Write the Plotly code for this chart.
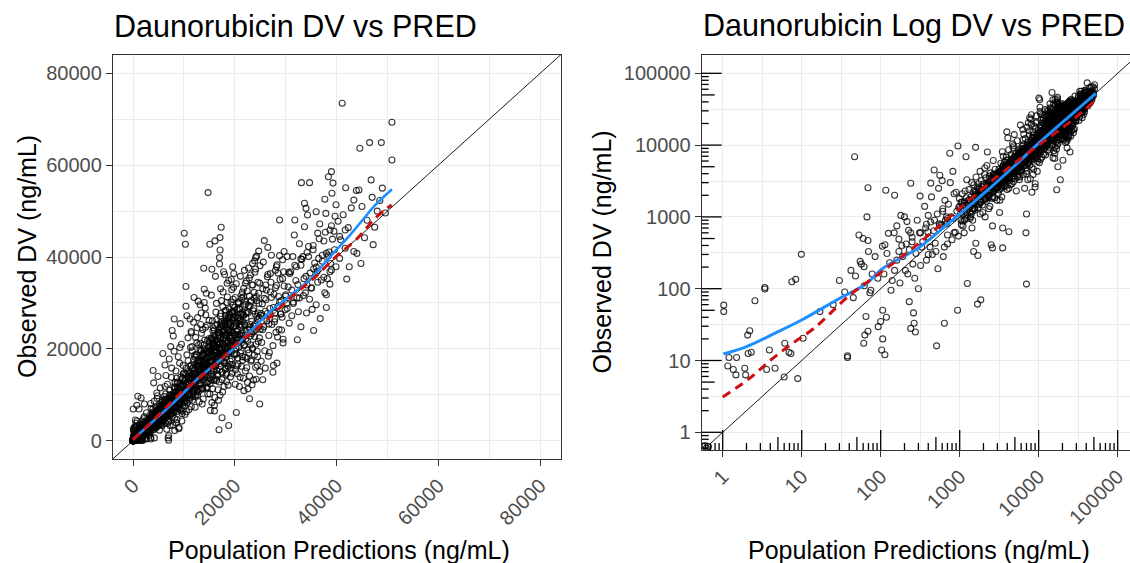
import plotly.graph_objects as go

# ---------------- data ----------------
pred_a = [0.62, 0.66, 0.6, 1.03, 1.03, 1.16, 1.36, 1.47, 1.5, 1.2,
          1.9, 1.95, 2.07, 2.2, 2.1, 2.3, 2.56, 3.42, 3.42, 3.6,
          3.9, 4.6, 6.0, 6.1, 6.9, 7.3, 8.9, 10.4, 7.5, 17,
          38, 38, 65, 69, 63, 61, 75, 73, 93, 100,
          106, 106, 103, 113, 118, 230, 260, 240, 265, 275,
          300, 510, 640, 940, 1680, 1850, 7000, 1250, 9.9, 8.4,
          46.8, 69, 67, 53, 60, 69, 105, 113, 116, 150,
          240, 315, 475, 430, 600, 750, 950, 1200, 1590, 180,
          200, 215, 160, 148, 170, 125, 61.6, 57, 240, 400,
          380, 480, 610, 680, 1100, 1500, 2100, 2600, 3500, 4200,
          3200, 8200, 9000, 1500, 1700, 2600, 3500, 1600, 2500, 500,
          420, 640]
dv_a = [0.6, 0.63, 0.65, 59, 48, 8.4, 7.5, 6.3, 11, 11,
        7.8, 6.3, 22.6, 26, 12.5, 13, 68, 104, 99, 7.5,
        14, 7.8, 5.9, 17.4, 13, 12.5, 5.6, 20.4, 125, 48,
        11.6, 11, 41, 25.5, 22.6, 17.4, 95, 88, 29.6, 35,
        50, 20, 14, 12, 40, 66, 46, 28, 33, 25,
        100, 16, 33, 50, 61, 70, 116, 118, 301, 135,
        6900, 2550, 1000, 560, 500, 470, 390, 410, 2350, 2000,
        2940, 1950, 4500, 2950, 3200, 7700, 9700, 6900, 9300, 1050,
        1000, 860, 750, 600, 490, 590, 202, 220, 600, 1050,
        790, 900, 1200, 800, 750, 1800, 1000, 750, 700, 620,
        1150, 2200, 2600, 330, 290, 370, 370, 430, 410, 330,
        380, 380]

pred_a2 = [110, 130, 150, 170, 190, 210, 230, 250, 280, 310,
           340, 370, 400, 430, 470, 520, 560, 610, 660, 720,
           780, 850, 920, 990, 120, 140, 160, 185, 205, 225,
           255, 290, 330, 360, 395, 440, 490, 540, 590, 650,
           700, 760, 830, 900, 970, 135, 175, 220, 270, 320,
           380, 450, 530, 620, 700, 800, 880, 960, 560, 820]
dv_a2 = [160, 230, 180, 330, 280, 420, 350, 520, 310, 600,
         450, 700, 520, 850, 640, 1100, 760, 1300, 900, 1500,
         1000, 2100, 1200, 1800, 310, 130, 250, 400, 180, 650,
         220, 900, 380, 1400, 620, 1900, 430, 2500, 780, 1700,
         560, 3000, 950, 2200, 1350, 95, 120, 160, 140, 210,
         250, 300, 190, 280, 420, 480, 610, 540, 3800, 4300]

pred_a3 = [30, 35, 42, 48, 55, 62, 70, 78, 85, 92, 25, 45]
dv_a3 = [130, 90, 180, 150, 240, 110, 330, 160, 280, 140, 60, 75]

pred_b = [1020, 1050, 1080, 1120, 1150, 1190, 1230, 1270, 1310, 1350,
          1390, 1430, 1470, 1510, 1560, 1610, 1660, 1710, 1760, 1810,
          1860, 1910, 1960, 2010, 2060, 2110, 2160, 2210, 2260, 2310,
          2360, 2410, 2460, 2510, 2560, 2610, 2660, 2710, 2760, 2810,
          2860, 2910, 2960, 1040, 1100, 1170, 1250, 1330, 1420, 1500,
          1590, 1680, 1780, 1880, 1980, 2080, 2180, 2280, 2380, 2480,
          2580, 2680, 2780, 2880, 2980, 1070, 1210, 1370, 1540, 1730,
          1930, 2130, 2330, 2530, 2730, 2930, 1140, 1460, 1820, 2240]
dv_b = [1300, 780, 2100, 1100, 1650, 950, 3300, 1450, 2400, 1150,
        1900, 700, 1550, 2800, 1250, 3600, 1850, 1350, 2500, 4300,
        1600, 2100, 1150, 2900, 3900, 1750, 2450, 5200, 1950, 3100,
        2250, 1400, 4100, 2700, 3500, 1900, 6100, 2300, 3000, 4600,
        2500, 3400, 1700, 900, 1450, 2300, 1050, 1750, 3000, 1300,
        2000, 2600, 1500, 3200, 2200, 4800, 1650, 2750, 3700, 2150,
        2900, 4000, 1850, 3300, 2600, 1600, 1850, 1000, 2050, 2900,
        2400, 3500, 1300, 2700, 3800, 3100, 600, 900, 1100, 8000]

pred_c = [3020, 3080, 3140, 3200, 3260, 3320, 3380, 3440, 3500, 3560,
          3620, 3680, 3740, 3800, 3860, 3920, 3980, 4040, 4100, 4160,
          4220, 4280, 4340, 4400, 4460, 4520, 4580, 4640, 4700, 4760,
          4820, 4880, 4940, 5000, 5060, 5120, 5180, 5240, 5300, 5360,
          5420, 5480, 5540, 5600, 5660, 5720, 5780, 5840, 5900, 5960,
          3050, 3170, 3290, 3410, 3530, 3650, 3770, 3890, 4010, 4130,
          4250, 4370, 4490, 4610, 4730, 4850, 4970, 5090, 5210, 5330,
          5450, 5570, 5690, 5810, 5930, 3110, 3350, 3590, 3830, 4070,
          4310, 4550, 4790, 5030, 5270, 5510, 5750, 5990, 3230, 3710,
          4190, 4670, 5150, 5630, 3470, 3950, 4430, 4910, 5390, 5870]
dv_c = [3400, 2100, 4600, 2900, 3800, 5600, 2500, 4100, 3300, 7000,
        3900, 2700, 4800, 3600, 6200, 4300, 2400, 5200, 3900, 8600,
        4500, 3200, 5900, 4100, 7400, 4900, 2900, 6400, 4600, 5500,
        9800, 4100, 6000, 5100, 3400, 7600, 5600, 4400, 6700, 11500,
        5200, 3800, 6300, 7900, 5000, 4200, 8800, 6100, 5400, 7100,
        2600, 3600, 4300, 1900, 5100, 3000, 4400, 6800, 3500, 4900,
        5600, 2800, 4000, 5400, 9200, 3700, 6600, 4600, 2300, 5800,
        6900, 4800, 3300, 7400, 5600, 4000, 2600, 5300, 4700, 12600,
        3800, 7100, 3100, 6200, 5000, 8300, 3600, 6600, 1700, 5800,
        2500, 10400, 4300, 6000, 8100, 15300, 5300, 14000, 3600, 19000]

pred_d = [6040, 6120, 6200, 6280, 6360, 6440, 6520, 6600, 6680, 6760,
          6840, 6920, 7000, 7080, 7160, 7240, 7320, 7400, 7480, 7560,
          7640, 7720, 7800, 7880, 7960, 8040, 8120, 8200, 8280, 8360,
          8440, 8520, 8600, 8680, 8760, 8840, 8920, 9000, 9080, 9160,
          9240, 9320, 9400, 9480, 9560, 9640, 9720, 9800, 9880, 9960,
          6080, 6240, 6400, 6560, 6720, 6880, 7040, 7200, 7360, 7520,
          7680, 7840, 8000, 8160, 8320, 8480, 8640, 8800, 8960, 9120,
          9280, 9440, 9600, 9760, 9920, 6160, 6480, 6800, 7120, 7440,
          7760, 8080, 8400, 8720, 9040, 9360, 9680, 9990, 6320, 6960,
          7600, 8240, 8880, 9520, 6640, 7280, 7920, 8560, 9200, 9840,
          7010, 6900, 7700, 8500, 9300, 9600, 8100, 6300, 7400, 9900]
dv_d = [6800, 4500, 8900, 5800, 7400, 10200, 5200, 7900, 6300, 12300,
        7100, 4800, 4000, 8400, 6600, 11000, 5600, 9200, 7300, 13800,
        8000, 5300, 9900, 7600, 6100, 11700, 8600, 4900, 10600, 9000,
        15200, 7200, 9800, 12800, 6400, 10300, 8300, 11400, 7800, 16900,
        9500, 6700, 12100, 8800, 10700, 5900, 13300, 9300, 11800, 8400,
        5500, 7800, 3900, 9100, 6600, 8300, 4300, 10000, 7100, 6000,
        9600, 3400, 8600, 11300, 7500, 9900, 4600, 12600, 8100, 10900,
        6900, 13900, 9400, 7700, 12300, 9600, 14200, 6200, 17800, 5800,
        8900, 19500, 7000, 11700, 2900, 10400, 6400, 14800, 11800, 9300,
        15800, 12700, 18300, 21000, 2500, 3300, 22800, 13600, 20300, 16400,
        1100, 600, 24000, 3900, 25500, 4300, 26500, 16500, 20500, 14500]

pred_e = [10050, 10150, 10250, 10350, 10450, 10550, 10650, 10750, 10850, 10950,
          11050, 11150, 11250, 11350, 11450, 11550, 11650, 11750, 11850, 11950,
          12050, 12150, 12250, 12350, 12450, 12550, 12650, 12750, 12850, 12950,
          13050, 13150, 13250, 13350, 13450, 13550, 13650, 13750, 13850, 13950,
          14050, 14150, 14250, 14350, 14450, 14550, 14650, 14750, 14850, 14950,
          10100, 10300, 10500, 10700, 10900, 11100, 11300, 11500, 11700, 11900,
          12100, 12300, 12500, 12700, 12900, 13100, 13300, 13500, 13700, 13900,
          14100, 14300, 14500, 14700, 14900, 10200, 10600, 11000, 11400, 11800,
          12200, 12600, 13000, 13400, 13800, 14200, 14600, 10400, 11200, 12000,
          12800, 13600, 14400, 10800, 11600, 12400, 13200, 14000, 14800, 10070,
          10300, 14750, 13900, 10400, 11900, 12600, 13300, 14100, 10900, 11500,
          12100, 12700, 13400, 14000, 14600, 10600, 11300, 12900, 13700, 14400]
dv_e = [10800, 7600, 13200, 9400, 15800, 11300, 8200, 12600, 17400, 10100,
        13700, 9000, 16200, 11800, 7400, 14400, 19600, 12200, 10400, 15300,
        12900, 18200, 9700, 14800, 11600, 21300, 13500, 16900, 10600, 15600,
        13100, 19800, 12300, 17100, 23400, 14100, 11200, 18600, 15500, 20900,
        13800, 16600, 24700, 12600, 18100, 15200, 21800, 14400, 19300, 26200,
        8400, 12400, 6300, 15000, 11000, 9300, 20300, 13600, 8800, 17700,
        10900, 22500, 14700, 9900, 16300, 12100, 25300, 17500, 11400, 19100,
        14900, 27400, 16100, 10200, 22200, 5700, 18700, 6800, 23800, 9600,
        7300, 24600, 8500, 27800, 9100, 28900, 11700, 29300, 26500, 31200,
        30400, 8000, 32100, 22400, 20500, 18800, 29600, 33000, 12900, 45190,
        42800, 54030, 37560, 33600, 25800, 10800, 21200, 17400, 14300, 23500,
        16600, 26800, 19700, 30100, 25200, 27200, 11500, 20900, 24200, 16900]

pred_f = [15050, 15150, 15250, 15350, 15450, 15550, 15650, 15750, 15850, 15950,
          16050, 16150, 16250, 16350, 16450, 16550, 16650, 16750, 16850, 16950,
          17050, 17150, 17250, 17350, 17450, 17550, 17650, 17750, 17850, 17950,
          18050, 18150, 18250, 18350, 18450, 18550, 18650, 18750, 18850, 18950,
          19050, 19150, 19250, 19350, 19450, 19550, 19650, 19750, 19850, 19950,
          15100, 15300, 15500, 15700, 15900, 16100, 16300, 16500, 16700, 16900,
          17100, 17300, 17500, 17700, 17900, 18100, 18300, 18500, 18700, 18900,
          19100, 19300, 19500, 19700, 19900, 15200, 15600, 16000, 16400, 16800,
          17200, 17600, 18000, 18400, 18800, 19200, 19600, 15400, 16200, 17000,
          17800, 18600, 19400, 15800, 16600, 17400, 18200, 19000, 19800, 17330,
          17100, 15100, 16100, 17120, 17000, 15500, 16900, 18800, 17500, 16000,
          15450, 16250, 17050, 17850, 18650, 19450, 15650, 16450, 17250, 18050,
          18850, 19650, 15950, 16750, 17550, 18350, 19150, 19950, 16550, 18450]
dv_f = [16200, 12400, 19800, 14600, 22300, 17100, 11300, 20600, 15700, 24100,
        18400, 13500, 21800, 16900, 26400, 19300, 14200, 23600, 18100, 12800,
        21200, 27100, 16300, 24800, 19900, 14900, 29200, 22500, 17400, 25700,
        20300, 15600, 28400, 23100, 18800, 31300, 21600, 16100, 26900, 19500,
        24400, 13900, 30200, 22000, 17800, 27600, 20800, 33400, 25100, 18600,
        10200, 18900, 8300, 23900, 13100, 9400, 28000, 15300, 11100, 20100,
        9900, 25900, 13300, 32400, 11800, 23000, 14400, 34300, 12100, 28700,
        16600, 35100, 14700, 30800, 21400, 6600, 26100, 7700, 29900, 8800,
        33100, 10600, 36200, 12900, 34900, 15800, 37900, 31700, 35800, 38500,
        36800, 26200, 32900, 24600, 20900, 30500, 27300, 22700, 36400, 46500,
        44240, 42800, 43520, 41550, 39880, 37340, 2390, 3300, 5000, 6500,
        21000, 17700, 23400, 19000, 25400, 21700, 14000, 19600, 27700, 16800,
        24000, 29500, 20400, 22900, 18300, 26600, 23700, 28100, 25300, 30100]

pred_g = [20050, 20150, 20250, 20350, 20450, 20550, 20650, 20750, 20850, 20950,
          21050, 21150, 21250, 21350, 21450, 21550, 21650, 21750, 21850, 21950,
          22050, 22150, 22250, 22350, 22450, 22550, 22650, 22750, 22850, 22950,
          23050, 23150, 23250, 23350, 23450, 23550, 23650, 23750, 23850, 23950,
          24050, 24150, 24250, 24350, 24450, 24550, 24650, 24750, 24850, 24950,
          20100, 20500, 20900, 21300, 21700, 22100, 22500, 22900, 23300, 23700,
          24100, 24500, 24900, 20300, 21100, 21900, 22700, 23500, 24300, 20700,
          21500, 22300, 23100, 23900, 24700, 20300, 22900, 24900, 24100, 21800,
          22600, 23400, 24200, 20600, 21400, 22200, 23000, 23800, 24600, 21000]
dv_g = [21300, 15400, 25800, 18900, 28600, 23200, 16700, 30100, 20400, 26300,
        13800, 24700, 19600, 31800, 22100, 17500, 27400, 33200, 20900, 25100,
        18200, 29700, 23800, 15900, 32600, 21600, 27900, 19100, 35400, 24300,
        22800, 17300, 30600, 26000, 20200, 33900, 23700, 28800, 18600, 36700,
        25500, 21000, 31400, 27100, 16400, 34500, 24900, 29900, 22400, 38100,
        12300, 14600, 11800, 16200, 13600, 15200, 12700, 14100, 17600, 13200,
        16000, 18300, 15100, 34200, 35800, 37100, 37600, 38600, 40200, 30200,
        32400, 34800, 36100, 39200, 41300, 6160, 9140, 8000, 39880, 10900,
        11300, 12200, 13400, 24000, 27600, 26800, 29300, 31000, 27800, 23000]

pred_h = [25100, 25300, 25500, 25700, 25900, 26100, 26300, 26500, 26700, 26900,
          27100, 27300, 27500, 27700, 27900, 28100, 28300, 28500, 28700, 28900,
          29100, 29300, 29500, 29700, 29900, 25200, 25600, 26000, 26400, 26800,
          27200, 27600, 28000, 28400, 28800, 29200, 29600, 25400, 26200, 27000,
          27800, 28600, 29400, 25800, 28800, 27200, 28200, 29700, 28300, 26600,
          25000, 26000, 27000, 28000, 29000, 30000, 25500, 27500, 29500, 26500]
dv_h = [27300, 21400, 33100, 24800, 19600, 30700, 26100, 36200, 22900, 28800,
        34500, 25300, 20700, 31900, 27800, 23600, 38300, 29300, 24200, 35100,
        30500, 26900, 22100, 33700, 28500, 17300, 38900, 15800, 35700, 19200,
        31200, 16400, 37100, 22600, 40300, 24100, 36800, 29800, 32800, 27500,
        25900, 31400, 39400, 43580, 48080, 40400, 37900, 41200, 16900, 18400,
        24300, 28200, 36400, 33300, 27600, 31800, 13270, 14900, 21300, 42100]

pred_i = [31800, 33100, 34700, 33700, 34000, 34300, 36000, 37900, 39000, 38400,
          39300, 39100, 39900, 38700, 36300, 35400, 34500, 33400, 30300, 31400,
          32100, 30800, 38000, 38800, 32300, 34100, 37700, 35500, 38000, 30500,
          31000, 31500, 32000, 32500, 33000, 33500, 34000, 34500, 35000, 35500,
          36000, 36500, 37000, 37500, 38000, 38500, 39000, 39500, 30200, 31200,
          32200, 33200, 34200, 35200, 36200, 37200, 38200, 39200, 30700, 32700,
          34700, 36700, 38700, 31700, 33700, 35700, 37700, 39700, 33000, 36800]
dv_i = [48080, 56200, 56200, 51700, 50600, 49150, 49880, 49500, 58600, 57500,
        56100, 53900, 51400, 45900, 45200, 41600, 40100, 40100, 40100, 40100,
        37900, 36400, 40800, 38600, 22000, 27800, 32200, 24000, 29000, 33500,
        36800, 30200, 34900, 28100, 38200, 31600, 35800, 42300, 33200, 37400,
        29600, 39700, 35000, 43500, 31800, 41100, 37200, 45600, 29900, 27200,
        31100, 39500, 33900, 28600, 36900, 40400, 35300, 43900, 25600, 42900,
        30800, 47200, 34100, 44800, 46600, 38700, 52600, 48900, 24800, 26600]

pred_j = [41110, 50890, 50890, 44570, 46500, 48800, 41800, 43400, 44400, 43900,
          42900, 41700, 41700, 43400, 44000, 42500, 40600, 40800, 40600, 47000,
          48000, 49000, 46000, 45000, 47500, 40300, 41300, 42300, 45500, 46800,
          48500, 49600, 42000, 44800, 47200]
dv_j = [73480, 69350, 61150, 63690, 64920, 64920, 55100, 52400, 54600, 54500,
        50700, 45900, 41900, 41200, 40800, 37900, 44500, 43750, 39700, 53000,
        50000, 55000, 48000, 51000, 46500, 47800, 49200, 46400, 44200, 56800,
        52300, 49600, 35200, 38600, 42700]

# dense core along the identity line
pred_k1 = [1030, 1090, 1160, 1220, 1290, 1350, 1420, 1480, 1550, 1610,
           1680, 1740, 1810, 1870, 1940, 2000, 2070, 2130, 2200, 2260,
           2330, 2390, 2460, 2520, 2590, 2650, 2720, 2780, 2850, 2910,
           2980, 3040, 3110, 3170, 3240, 3300, 3370, 3430, 3500, 3560,
           3630, 3690, 3760, 3820, 3890, 3950, 4020, 4080, 4150, 4210,
           4280, 4340, 4410, 4470, 4540, 4600, 4670, 4730, 4800, 4860,
           4930, 4990, 1300, 1700, 2100, 2500, 2900, 3300, 3700, 4100,
           4500, 4900, 1450, 1850, 2250, 2650, 3050, 3450, 3850, 4250,
           4650, 1200, 1600, 2000, 2400, 2800, 3200, 3600, 4000, 4400]
dv_k1 = [1130, 870, 1570, 1160, 1550, 950, 1490, 2220, 1320, 2010,
         1680, 2260, 1630, 2150, 1460, 2800, 2070, 1810, 2640, 2370,
         1860, 3110, 2340, 2900, 1810, 3840, 2860, 2500, 3420, 2910,
         2530, 4100, 3420, 2380, 4050, 3140, 3880, 2740, 4900, 3560,
         3270, 4430, 3950, 2670, 5060, 3360, 4420, 6120, 3940, 5050,
         3420, 4560, 5950, 4020, 5220, 3450, 5840, 4730, 4080, 6800,
         5420, 4490, 1300, 2040, 1890, 2750, 3770, 3470, 3330, 4720,
         4500, 5880, 1310, 1940, 2810, 2520, 3050, 4140, 4240, 4040,
         4880, 1440, 1520, 2200, 2400, 3080, 3840, 4140, 4000, 5720]

pred_k2 = [5050, 5120, 5190, 5260, 5330, 5400, 5470, 5540, 5610, 5680,
           5750, 5820, 5890, 5960, 6030, 6100, 6170, 6240, 6310, 6380,
           6450, 6520, 6590, 6660, 6730, 6800, 6870, 6940, 7010, 7080,
           7150, 7220, 7290, 7360, 7430, 7500, 7570, 7640, 7710, 7780,
           7850, 7920, 7990, 8060, 8130, 8200, 8270, 8340, 8410, 8480,
           8550, 8620, 8690, 8760, 8830, 8900, 8970, 9040, 9110, 9180,
           9250, 9320, 9390, 9460, 9530, 9600, 9670, 9740, 9810, 9880]
dv_k2 = [5300, 4350, 6490, 5000, 6130, 4320, 7110, 5540, 5050, 6820,
         6330, 4370, 7950, 5660, 7240, 5190, 6480, 8740, 5680, 7340,
         6450, 8150, 5270, 7330, 6390, 8840, 5840, 7980, 7360, 6370,
         8580, 7220, 5470, 9940, 8170, 6750, 9460, 7640, 6550, 8950,
         8240, 10300, 7590, 9670, 6500, 9020, 11580, 7510, 8410, 10600,
         7270, 9910, 9120, 8320, 11480, 9790, 7180, 10850, 9110, 12390,
         8330, 10720, 9860, 11830, 8100, 10560, 9670, 13640, 9320, 11860]

pred_k3 = [10000, 10100, 10200, 10300, 10400, 10500, 10600, 10700, 10800, 10900,
           11000, 11100, 11200, 11300, 11400, 11500, 11600, 11700, 11800, 11900,
           12000, 12100, 12200, 12300, 12400, 12500, 12600, 12700, 12800, 12900,
           13000, 13100, 13200, 13300, 13400, 13500, 13600, 13700, 13800, 13900,
           14000, 14100, 14200, 14300, 14400, 14500, 14600, 14700, 14800, 14900,
           15000, 15100, 15200, 15300, 15400, 15500, 15600, 15700, 15800, 15900,
           16000, 16100, 16200, 16300, 16400, 16500, 16600, 16700, 16800, 16900,
           17000, 17100, 17200, 17300, 17400, 17500, 17600, 17700, 17800, 17900,
           18000, 18100, 18200, 18300, 18400, 18500, 18600, 18700, 18800, 18900,
           19000, 19100, 19200, 19300, 19400, 19500, 19600, 19700, 19800, 19900,
           20000, 20100, 20200, 20300, 20400, 20500, 20600, 20700, 20800, 20900,
           21000, 21100, 21200, 21300, 21400, 21500, 21600, 21700, 21800, 21900,
           22000, 22100, 22200, 22300, 22400, 22500, 22600, 22700, 22800, 22900,
           23000, 23100, 23200, 23300, 23400, 23500, 23600, 23700, 23800, 23900,
           24000, 24100, 24200, 24300, 24400, 24500, 24600, 24700, 24800, 24900]
dv_k3 = [11000, 9100, 13100, 10300, 14600, 8700, 12200, 10800, 13900, 9800,
         12700, 10100, 14700, 11300, 16500, 9800, 13700, 12100, 15900, 11300,
         13800, 18600, 12100, 15200, 10000, 13800, 11100, 16500, 13600, 17400,
         11400, 13800, 17300, 14400, 19400, 11500, 16300, 14400, 18600, 13200,
         16100, 21900, 14200, 17900, 11500, 15600, 12600, 18900, 15800, 20300,
         16500, 13700, 19800, 15300, 22400, 13200, 18700, 16500, 21300, 15100,
         18400, 25100, 16200, 20400, 13100, 17700, 14500, 21500, 18100, 23000,
         18700, 15500, 22400, 17300, 25200, 14900, 21100, 18600, 24000, 17000,
         20700, 28200, 18200, 23000, 14700, 19900, 16300, 24200, 20300, 25900,
         20900, 17300, 25000, 19300, 28100, 16600, 23500, 20700, 26800, 18900,
         23000, 31200, 20200, 25500, 16300, 22000, 18000, 26800, 22500, 28700,
         23100, 19100, 27600, 21300, 31000, 18300, 25900, 22900, 29500, 20800,
         25300, 34300, 22200, 28000, 17900, 24200, 19800, 29400, 24700, 31500,
         25300, 20900, 30200, 23300, 33900, 20000, 28300, 25000, 32300, 22700,
         27600, 37400, 24200, 30500, 19500, 26400, 21600, 32100, 26900, 34300]

pred_k4 = [12050, 12550, 13050, 13550, 14050, 14550, 15050, 15550, 16050, 16550,
           17050, 17550, 18050, 18550, 19050, 19550, 20050, 20550, 21050, 21550,
           12300, 12800, 13300, 13800, 14300, 14800, 15300, 15800, 16300, 16800,
           17300, 17800, 18300, 18800, 19300, 19800, 20300, 20800, 21300, 21800,
           15150, 15650, 16150, 16650, 17150, 17650, 18150, 18650, 19150, 19650]
dv_k4 = [14500, 16300, 15000, 18300, 16200, 19600, 17300, 20200, 19300, 21500,
         19600, 23700, 21700, 24100, 22900, 26400, 23100, 26700, 25300, 28000,
         12900, 15400, 14600, 17200, 15700, 18500, 16800, 19700, 17900, 21000,
         19000, 22200, 20100, 23500, 21200, 24800, 22300, 26000, 23400, 27300,
         20500, 17200, 22600, 18300, 24000, 19400, 25400, 20500, 26800, 21600]

pred_k5 = [25200, 25800, 26400, 27000, 27600, 28200, 28800, 29400, 30000, 30600,
           31200, 31800, 32400, 33000, 33600, 34200, 34800, 35400, 36000, 36600,
           37200, 37800, 38400, 39000, 39600, 25500, 26700, 27900, 29100, 30300,
           31500, 32700, 33900, 35100, 36300, 37500, 38700, 39900, 26100, 28500]
dv_k5 = [27700, 31000, 27700, 32400, 29000, 33800, 30200, 35300, 31500, 36700,
         32800, 38200, 34000, 39600, 35300, 41000, 36500, 42500, 37800, 44000,
         39100, 45400, 40300, 46800, 41600, 24200, 25400, 26500, 27600, 28800,
         29900, 31100, 32200, 33300, 34500, 35600, 36800, 37900, 33900, 36500]

pred_k6 = [250, 400, 550, 700, 850, 1000, 1150, 1300, 1450, 1600,
           1750, 1900, 2050, 2200, 2350, 2500, 2650, 2800, 2950, 3100,
           3250, 3400, 3550, 3700, 3850, 4000, 4150, 4300, 4450, 4600,
           4750, 4900, 5050, 5200, 5350, 5500, 5650, 5800, 5950, 6100,
           320, 680, 1040, 1400, 1760, 2120, 2480, 2840, 3200, 3560,
           3920, 4280, 4640, 5000, 5360, 5720, 6080, 1580, 2680, 3780]
dv_k6 = [450, 300, 800, 950, 600, 1400, 900, 1700, 1200, 2200,
         1500, 2600, 1800, 2900, 2000, 3400, 2300, 3700, 2600, 4100,
         2800, 4500, 3100, 4900, 3300, 5300, 3600, 5800, 3900, 6200,
         4200, 6600, 4500, 7000, 4800, 7500, 5000, 7900, 5300, 8300,
         600, 1000, 1600, 1100, 2400, 1800, 3300, 2400, 4300, 3000,
         5200, 3600, 6100, 4200, 7100, 4800, 8000, 2300, 3600, 5000]

pred_k7 = [11200, 11700, 12200, 12700, 13200, 13700, 14200, 14700, 15200, 15700,
           16200, 16700, 17200, 17700, 18200, 18700, 19200, 19700, 20200, 20700,
           21200, 21700, 22200, 11450, 11950, 12450, 12950, 13450, 13950, 14450,
           14950, 15450, 15950, 16450, 16950, 17450, 17950, 18450, 18950, 19450,
           19950, 20450, 20950, 21450, 21950, 14000, 15000, 16000, 17000, 18000,
           19000, 20000, 13500, 16500, 18500, 21000, 12500, 15500, 17500, 19500]
dv_k7 = [13500, 15800, 14100, 17300, 15600, 19000, 17000, 20400, 18300, 22000,
         19600, 23500, 21000, 25100, 22300, 26700, 23700, 28200, 25000, 29800,
         26400, 31300, 27700, 12600, 14500, 13400, 16100, 14700, 17600, 16000,
         19200, 17300, 20800, 18600, 22400, 19900, 24000, 21200, 25600, 22500,
         27200, 23800, 28800, 25100, 30400, 20000, 21500, 23000, 24500, 26000,
         27500, 29000, 13800, 17000, 19000, 21800, 18500, 22000, 25500, 28000]

# smooth lines, linear panel
blue_lin_x = [100, 2500, 5000, 7500, 10000, 12500, 15000, 17500, 20000, 22500,
              25000, 27500, 30000, 32500, 35000, 37500, 40000, 42500, 45000, 47500, 50890]
blue_lin_y = [400, 2760, 5300, 7800, 10500, 13300, 15600, 17900, 20300, 23200,
              26000, 28700, 30800, 33000, 35300, 38500, 41600, 44600, 47900, 51200, 54780]
red_lin_x = [0, 5400, 8990, 12590, 16900, 20500, 24100, 29110, 32000, 35580,
             39890, 43850, 47800, 50830]
red_lin_y = [200, 6020, 10010, 13270, 17260, 21260, 24150, 29220, 32140, 35400,
             40100, 43800, 48670, 51350]

# smooth lines, log panel
blue_log_x = [1.02, 2, 4.6, 10.4, 30, 65, 105, 300, 700, 2200, 5000, 9400, 26800, 52800]
blue_log_y = [12.3, 15.6, 24, 37.5, 73, 116, 190, 370, 790, 2300, 5200, 10000, 27500, 52500]
red_log_x = [1.0, 2.19, 4.08, 7.66, 14.3, 40.8, 84.7, 269, 847, 2965, 9400, 26800, 52800]
red_log_y = [3.1, 5.65, 10.2, 17.4, 28.1, 81.7, 147, 385, 1122, 3630, 9500, 22400, 42500]

identity_lin = [-10000, 100000]
identity_log = [0.1, 1000000]

lin_ticks = [0, 20000, 40000, 60000, 80000]
lin_minor = [-10000, 10000, 30000, 50000, 70000]
log_ticks = [1, 10, 100, 1000, 10000, 100000]
log_tick_text = ["1", "10", "100", "1000", "10000", "100000"]
log_minor = [0.3162, 3.162, 31.62, 316.2, 3162, 31623, 316228]

# ---------------- assemble ----------------
groups = [(pred_a, dv_a), (pred_a2, dv_a2), (pred_a3, dv_a3), (pred_b, dv_b),
          (pred_c, dv_c), (pred_d, dv_d), (pred_e, dv_e), (pred_f, dv_f),
          (pred_g, dv_g), (pred_h, dv_h), (pred_i, dv_i), (pred_j, dv_j),
          (pred_k1, dv_k1), (pred_k2, dv_k2), (pred_k3, dv_k3), (pred_k4, dv_k4),
          (pred_k5, dv_k5), (pred_k6, dv_k6), (pred_k7, dv_k7)]
pred, dv = [], []
for p, d in groups:
    for a, b in zip(p, d):
        pred.append(a)
        dv.append(b)

W, H = 1130, 563
def px(x):
    return x / W
def py(y):
    return (H - y) / H

FONT = "Liberation Sans, Arial, sans-serif"
TICKFONT = dict(family=FONT, size=20, color="#4D4D4D")
GRID = "#EBEBEB"
BORDER = "#333333"

marker = dict(symbol="circle-open", size=6, color="rgba(0,0,0,0.78)",
              line=dict(width=1.1, color="rgba(0,0,0,0.78)"))

fig = go.Figure()
# left panel
fig.add_trace(go.Scatter(x=pred, y=dv, mode="markers", marker=marker,
                         xaxis="x", yaxis="y", showlegend=False, hoverinfo="skip"))
fig.add_trace(go.Scatter(x=identity_lin, y=identity_lin, mode="lines",
                         line=dict(color="black", width=0.9), xaxis="x", yaxis="y",
                         showlegend=False))
fig.add_trace(go.Scatter(x=blue_lin_x, y=blue_lin_y, mode="lines", line_shape="spline",
                         line=dict(color="#1E8FFF", width=2.6), xaxis="x", yaxis="y",
                         showlegend=False))
fig.add_trace(go.Scatter(x=red_lin_x, y=red_lin_y, mode="lines", line_shape="spline",
                         line=dict(color="#CC1010", width=3, dash="9px,6px"),
                         xaxis="x", yaxis="y", showlegend=False))
# right panel
fig.add_trace(go.Scatter(x=pred, y=dv, mode="markers", marker=marker,
                         xaxis="x2", yaxis="y2", showlegend=False, hoverinfo="skip"))
fig.add_trace(go.Scatter(x=identity_log, y=identity_log, mode="lines",
                         line=dict(color="black", width=0.9), xaxis="x2", yaxis="y2",
                         showlegend=False))
fig.add_trace(go.Scatter(x=blue_log_x, y=blue_log_y, mode="lines", line_shape="spline",
                         line=dict(color="#1E8FFF", width=3), xaxis="x2", yaxis="y2",
                         showlegend=False))
fig.add_trace(go.Scatter(x=red_log_x, y=red_log_y, mode="lines", line_shape="spline",
                         line=dict(color="#CC1010", width=3, dash="9px,6px"),
                         xaxis="x2", yaxis="y2", showlegend=False))

common = dict(showline=True, linecolor=BORDER, linewidth=1.3, ticks="outside",
              ticklen=6, tickwidth=1.2, tickcolor=BORDER, showgrid=True,
              gridcolor=GRID, gridwidth=1, zeroline=False, tickfont=TICKFONT)

fig.update_layout(
    width=W, height=H, margin=dict(l=0, r=0, t=0, b=0),
    paper_bgcolor="white", plot_bgcolor="white",
    xaxis=dict(domain=[px(113), px(561)], range=[-3930, 84110], anchor="y",
               tickvals=lin_ticks, ticktext=[str(v) for v in lin_ticks],
               tickangle=-45, mirror=True,
               minor=dict(tickvals=lin_minor, showgrid=True, gridcolor=GRID,
                          gridwidth=1, ticks=""), **common),
    yaxis=dict(domain=[py(459), py(55)], range=[-3980, 84000], anchor="x",
               tickvals=lin_ticks, ticktext=[str(v) for v in lin_ticks], mirror=True,
               minor=dict(tickvals=lin_minor, showgrid=True, gridcolor=GRID,
                          gridwidth=1, ticks=""), **common),
    xaxis2=dict(domain=[px(701.7), 1.0], type="log", range=[-0.266, 5.156],
                anchor="y2", tickvals=log_ticks, ticktext=log_tick_text,
                tickangle=-45, mirror=True,
                minor=dict(tickvals=log_minor, showgrid=True, gridcolor=GRID,
                           gridwidth=1, ticks=""), **common),
    yaxis2=dict(domain=[py(450), py(55)], type="log", range=[-0.2465, 5.255],
                anchor="x2", tickvals=log_ticks, ticktext=log_tick_text, mirror=False,
                minor=dict(tickvals=log_minor, showgrid=True, gridcolor=GRID,
                           gridwidth=1, ticks=""), **common),
)

# annotation_logticks style ticks on the log panel
shapes = []
x_lo, x_hi = 10 ** -0.266, 10 ** 5.156
y_lo, y_hi = 10 ** -0.2465, 10 ** 5.255
for k in range(-1, 6):
    for m in range(1, 10):
        v = m * 10 ** k
        L = 20 if m == 1 else (13 if m == 5 else 7)
        if x_lo < v < x_hi:
            shapes.append(dict(type="line", xref="x2", yref="y2 domain",
                               x0=v, x1=v, ysizemode="pixel", yanchor=0, y0=0, y1=L,
                               line=dict(color="black", width=1.3), layer="above"))
        if y_lo < v < y_hi:
            shapes.append(dict(type="line", xref="x2 domain", yref="y2",
                               y0=v, y1=v, xsizemode="pixel", xanchor=0, x0=0, x1=L,
                               line=dict(color="black", width=1.3), layer="above"))
fig.update_layout(shapes=shapes)

ann = []
ann.append(dict(text="Daunorubicin DV vs PRED", x=px(112), y=py(25.6), xref="paper",
                yref="paper", xanchor="left", yanchor="middle", showarrow=False,
                font=dict(family=FONT, size=30.5, color="black")))
ann.append(dict(text="Daunorubicin Log DV vs PRED", x=px(701), y=py(25.6), xref="paper",
                yref="paper", xanchor="left", yanchor="middle", showarrow=False,
                font=dict(family=FONT, size=30.5, color="black")))
for cx in (338.5, 919):
    ann.append(dict(text="Population Predictions (ng/mL)", x=px(cx), y=py(550),
                    xref="paper", yref="paper", xanchor="center", yanchor="middle",
                    showarrow=False, font=dict(family=FONT, size=25, color="black")))
for cx, cy in ((27, 257), (601, 252.5)):
    ann.append(dict(text="Observed DV (ng/mL)", x=px(cx), y=py(cy), xref="paper",
                    yref="paper", xanchor="center", yanchor="middle", textangle=-90,
                    showarrow=False, font=dict(family=FONT, size=25, color="black")))
fig.update_layout(annotations=ann)

fig.write_html("out.html")
